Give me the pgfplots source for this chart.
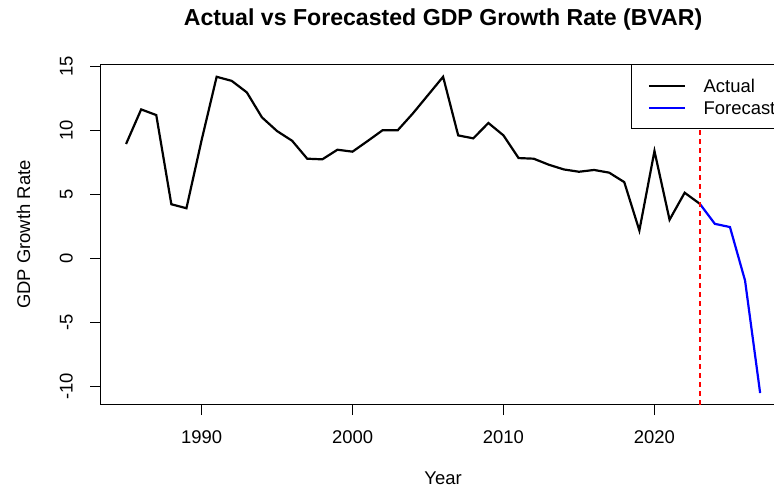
\documentclass[border=0pt]{standalone}
\usepackage{fontspec}
\setmainfont{Liberation Sans}
\usepackage{pgfplots}
\pgfplotsset{compat=1.18}
\pgfplotstableread{
year val
1985 8.92
1986 11.62
1987 11.18
1988 4.21
1989 3.90
1990 9.2
1991 14.17
1992 13.85
1993 12.95
1994 11.0
1995 9.93
1996 9.17
1997 7.77
1998 7.72
1999 8.47
2000 8.32
2001 9.15
2002 10.0
2003 10.0
2004 11.31
2005 12.74
2006 14.17
2007 9.59
2008 9.36
2009 10.56
2010 9.59
2011 7.82
2012 7.77
2013 7.3
2014 6.93
2015 6.75
2016 6.89
2017 6.68
2018 5.94
2019 2.16
2020 8.37
2021 3.0
2022 5.11
2023 4.25
}\actual
\pgfplotstableread{
year val
2023 4.25
2024 2.68
2025 2.43
2026 -1.75
2027 -10.54
}\forecast
\definecolor{vred}{RGB}{255,0,0}
\begin{document}
\begin{tikzpicture}
\begin{axis}[
  scale only axis, width=684.8bp, height=340.2bp,
  at={(0,0)}, anchor=south west,
  xmin=1983.32, xmax=2028.68, ymin=-11.45, ymax=15.13,
  xtick={1990,2000,2010,2020}, xticklabels={1990,2000,2010,2020},
  ytick={-10,-5,0,5,10,15}, yticklabels={-10,-5,0,5,10,15},
  tick align=outside, major tick length=10.5bp, xtick pos=bottom, ytick pos=left,
  tick style={black, line width=0.9bp},
  axis line style={black, line width=0.9bp},
  ticklabel style={font=\fontsize{18.5}{22}\selectfont, inner sep=0pt},
  xticklabel style={anchor=north}, xticklabel shift=15.0bp,
  yticklabel style={rotate=90, anchor=south}, yticklabel shift=17.2bp,
  label style={font=\fontsize{18.5}{22}\selectfont, inner sep=0pt},
  xlabel={Year}, xlabel style={at={(axis description cs:0.5,-0.196)}, anchor=north},
  ylabel={GDP Growth Rate}, ylabel style={at={(axis description cs:-0.1025,0.5)}, anchor=south},
  title={Actual vs Forecasted GDP Growth Rate (BVAR)},
  title style={at={(axis description cs:0.5,1.0985)}, anchor=base, font=\bfseries\fontsize{23.2}{27}\selectfont, inner sep=0pt},
  legend style={at={(axis description cs:0.7744,1)}, anchor=north west, draw=black, line width=0.9bp, fill=white,
    inner xsep=16.3bp, inner ysep=9.5bp, row sep=0pt, column sep=17.7bp,
    font=\fontsize{18.5}{22}\selectfont,
    nodes={inner sep=0pt, text height=17.8bp, text depth=4.6bp}},
  legend cell align=left,
  legend image code/.code={\draw[#1] (0bp,0bp) -- (36bp,0bp);},
]
\addplot[black, line width=2.2bp] table[x=year, y=val] {\actual};
\addlegendentry{Actual}
\addplot[blue, line width=2.2bp] table[x=year, y=val] {\forecast};
\addlegendentry{Forecast}
\addplot[vred, line width=1.6bp, dash pattern=on 4.5bp off 4.5bp, forget plot] coordinates {(2023,-11.45) (2023,15.13)};
\end{axis}
\pgfresetboundingbox
\useasboundingbox (-100.7bp,-82.3bp) rectangle (673.3bp,404.7bp);
\end{tikzpicture}
\end{document}
